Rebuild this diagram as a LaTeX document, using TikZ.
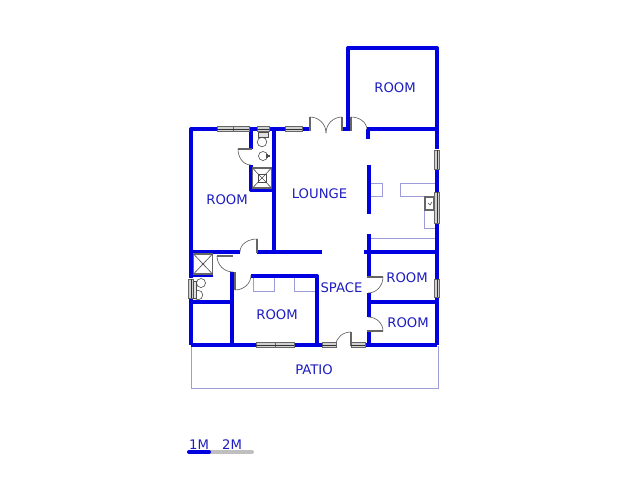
\documentclass[tikz,border=0pt]{standalone}
\usepackage{fontspec}
\setmainfont{DejaVu Sans}
\definecolor{planblue}{HTML}{0000E0}
\definecolor{textblue}{HTML}{1C1CC0}
\definecolor{thinblue}{HTML}{9C9CDC}
\definecolor{panelgrey}{HTML}{666666}
\tikzset{
    wall/.style = {draw=planblue, line width=3pt, line join=round, line cap=butt},
    thinline/.style = {draw=thinblue, line width=0.65pt},
    panel/.style = {draw=panelgrey, line width=1.5pt},
    swing/.style = {draw=black!65, line width=0.45pt},
    fixture/.style = {draw=black!70, line width=0.45pt},
    glass/.style = {draw=panelgrey, fill=black!18, line width=0.7pt},
    label/.style = {text=textblue, font=\fontsize{9.9pt}{11pt}\selectfont, inner sep=0pt}
}
\begin{document}
\begin{tikzpicture}[x=0.75pt, y=-0.75pt]
    \useasboundingbox (0,0) rectangle (640,480);
    % thin outlines
    \draw[thinline] (191,346) -- (191,388) -- (438,388) -- (438,346);
    \draw[thinline] (253,277) -- (253,291) -- (274,291) -- (274,277);
    \draw[thinline] (294,277) -- (294,291) -- (316,291);
    \draw[thinline] (370,183) -- (382,183) -- (382,196) -- (370,196);
    \draw[thinline] (437,183) -- (400,183) -- (400,196) -- (424,196) -- (424,228) -- (437,228);
    \draw[thinline] (369,238) -- (437,238);
    % walls
    \foreach \wallpath in {
        {(348,129) -- (348,48) -- (437,48) -- (437,149)},
        {(437,169) -- (437,192)}, {(437,223) -- (437,279)}, {(437,297) -- (437,345)},
        {(217,129) -- (191,129) -- (191,278)}, {(191,298) -- (191,345)},
        {(249,129) -- (257,129)}, {(269,129) -- (285,129)}, {(302,129) -- (310,129)},
        {(342,129) -- (351,129)}, {(367,129) -- (437,129)}, {(368,129) -- (368,139)},
        {(251,129) -- (251,149)}, {(274,129) -- (274,252)},
        {(251,165) -- (251,190) -- (274,190)},
        {(191,252) -- (240,252)}, {(257,252) -- (322,252)}, {(364,252) -- (437,252)},
        {(232,272) -- (232,345)}, {(251,276) -- (317,276) -- (317,345)},
        {(191,275) -- (213,275)}, {(191,302) -- (232,302)}, {(369,302) -- (437,302)},
        {(369,165) -- (369,214)}, {(369,234) -- (369,277)}, {(369,293) -- (369,317)},
        {(369,331) -- (369,345)},
        {(191,345) -- (256,345)}, {(294,345) -- (322,345)}, {(365,345) -- (437,345)}
    } {
        \draw[wall] \wallpath;
    }
    % door panels
    \foreach \panelpath in {
        {(310,117) -- (310,131)}, {(342,117) -- (342,131)}, {(351,117) -- (351,131)},
        {(238,149) -- (252,149)}, {(217,256) -- (233,256)}, {(257,239) -- (257,253)},
        {(235,272) -- (235,290)}, {(367,277) -- (383,277)}, {(367,331) -- (383,331)},
        {(351,332) -- (351,346)}
    } {
        \draw[panel] \panelpath;
    }
    % door swings
    \draw[swing] (310,117) to[out=0, in=90] (326,133);
    \draw[swing] (342,117) to[out=180, in=90] (326,133);
    \draw[swing] (351,117) to[out=0, in=90] (367,130);
    \draw[swing] (238,149) to[out=-90, in=180] (251,165);
    \draw[swing] (217,256) to[out=-90, in=180] (233,272);
    \draw[swing] (257,239) to[out=180, in=90] (240,252);
    \draw[swing] (235,290) to[out=0, in=-90] (251,275);
    \draw[swing] (383,277) to[out=-90, in=0] (368,293);
    \draw[swing] (368,317) to[out=0, in=90] (383,331);
    \draw[swing] (351,332) to[out=180, in=90] (336,345);
    % windows
    \foreach \xa/\xb in {217/233, 233/249, 257/269, 285/302, 256/275, 275/294, 322/336, 351/365} {
        \pgfmathsetmacro{\ywin}{\xa==256 || \xa==275 || \xa==322 || \xa==351 ? 345 : 129}
        \draw[glass] (\xa,\ywin-2.5) rectangle (\xb,\ywin+2.5);
        \draw[black!80, line width=0.4pt] (\xa,\ywin) -- (\xb,\ywin);
    }
    \foreach \ya/\yb/\xwin in {150/169/437, 192/223/437, 279/297/437, 279/298/191} {
        \draw[glass] (\xwin-2.5,\ya) rectangle (\xwin+2.5,\yb);
        \draw[black!80, line width=0.4pt] (\xwin,\ya) -- (\xwin,\yb);
    }
    % showers
    \foreach \cx/\cy in {262/178, 203/264} {
        \draw[fixture, draw=panelgrey, line width=0.9pt] (\cx-9.5,\cy-10) rectangle (\cx+9.5,\cy+10);
        \draw[fixture] (\cx-9.5,\cy-10) -- (\cx+9.5,\cy+10) (\cx-9.5,\cy+10) -- (\cx+9.5,\cy-10);
    }
    \draw[fixture, fill=white] (258,174) rectangle (266,182);
    \draw[fixture] (258,174) -- (266,182) (258,182) -- (266,174);
    \fill[black!70] (203,264) circle[radius=1pt];
    % toilets and basins
    \draw[fixture, fill=black!12] (258,132) rectangle (268,137);
    \draw[fixture] (262,142) circle[radius=3.6pt];
    \draw[fixture] (263,156) circle[radius=3.4pt];
    \draw[fixture, line width=0.9pt] (267,154) -- (267,158) (269,155) -- (269,157);
    \draw[fixture] (201,283) circle[radius=3.4pt];
    \draw[fixture] (198,295) circle[radius=3.6pt];
    \draw[fixture, fill=black!12] (193,281) rectangle (196,298);
    % sink
    \draw[panel, line width=1.1pt, fill=white] (425,197) rectangle (434,210);
    \draw[fixture] (428,203) -- (430,205) -- (432,202);
    % labels
    \node[label] (roomtop) at (395,88) {ROOM};
    \node[label] (roomleft) at (227,200) {ROOM};
    \node[label] (lounge) at (319.5,194) {LOUNGE};
    \node[label] (roomupper) at (407,277.5) {ROOM};
    \node[label] (space) at (341.5,288) {SPACE};
    \node[label] (roommid) at (277,315) {ROOM};
    \node[label] (roomlower) at (408,323) {ROOM};
    \node[label] (patio) at (314,370) {PATIO};
    % scale bar
    \node[label] (onem) at (199,444.5) {1M};
    \node[label] (twom) at (232,444.5) {2M};
    \draw[draw=black!25, line width=3pt, line cap=round] (209,452) -- (252,452);
    \draw[draw=planblue, line width=3pt, line cap=round] (189,452) -- (209,452);
\end{tikzpicture}
\end{document}
